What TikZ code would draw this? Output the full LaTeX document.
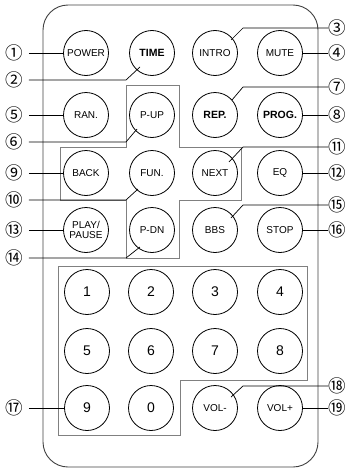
\documentclass[tikz,border=0pt]{standalone}
\usepackage{fontspec}
\setmainfont{Liberation Sans}
\newfontfamily\tagfont{Noto Sans CJK SC}
\usetikzlibrary{calc}
\begin{document}
\begin{tikzpicture}[x=1pt,y=-1pt,
  btn/.style={draw, circle, minimum size=45pt, inner sep=0pt, line width=0.8pt,
    font=\fontsize{10}{10}\selectfont},
  bbtn/.style={btn, font=\fontsize{10.5}{10}\selectfont\bfseries},
  key/.style={btn, font=\fontsize{14}{14}\selectfont},
  tagl/.style={inner sep=0pt, outer sep=6pt, font=\tagfont\fontsize{17.5}{17.5}\selectfont},
  tagr/.style={tagl, outer sep=0pt},
  lead/.style={line width=0.7pt},
  panel/.style={draw=gray, line width=1pt}]
\useasboundingbox (0,0) rectangle (352,471);
% remote body and panels
\draw[draw=black!75, line width=0.9pt, rounded corners=25pt] (43,5) rectangle (318,467);
\draw[panel] (126,85) -- (179,85) -- (179,147) -- (241,147) -- (241,200) -- (179,200)
  -- (179,258) -- (126,258) -- (126,200) -- (60,200) -- (60,147) -- (126,147) -- cycle;
\draw[panel] (58,266) -- (307,266) -- (307,380) -- (180,380) -- (180,435) -- (58,435) -- cycle;
% buttons
\node[btn] (power) at (86,53) {POWER};
\node[bbtn] (time) at (152,53) {TIME};
\node[btn] (intro) at (215,53) {INTRO};
\node[btn] (mute) at (280,53) {MUTE};
\node[btn] (ran) at (86,115) {RAN.};
\node[btn] (pup) at (152,115) {P-UP};
\node[bbtn] (rep) at (215,115) {REP.};
\node[bbtn] (prog) at (280,115) {PROG.};
\node[btn] (back) at (86,173) {BACK};
\node[btn] (fun) at (152,173) {FUN.};
\node[btn] (next) at (215,173) {NEXT};
\node[btn] (eq) at (280,173) {EQ};
\node[btn, align=center] (play) at (86,230) {PLAY/\\PAUSE};
\node[btn] (pdn) at (152,230) {P-DN};
\node[btn] (bbs) at (215,230) {BBS};
\node[btn] (stop) at (280,230) {STOP};
\node[key] (k1) at (87,292) {1};
\node[key] (k2) at (151,292) {2};
\node[key] (k3) at (215,292) {3};
\node[key] (k4) at (280,292) {4};
\node[key] (k5) at (87,351) {5};
\node[key] (k6) at (151,351) {6};
\node[key] (k7) at (215,351) {7};
\node[key] (k8) at (280,351) {8};
\node[key] (k9) at (87,408) {9};
\node[key] (k0) at (151,408) {0};
\node[btn] (voldn) at (215,408) {VOL-};
\node[btn] (volup) at (280,408) {VOL+};
% callouts
\coordinate (kl) at (126,0);
\coordinate (kr) at (243,0);
\node[tagl] (l1) at (14,53) {①};
\node[tagl] (l2) at (14,80) {②};
\node[tagr] (l3) at (337,28) {③};
\node[tagr] (l4) at (337,53) {④};
\node[tagl] (l5) at (14,115) {⑤};
\node[tagl] (l6) at (14,142) {⑥};
\node[tagr] (l7) at (337,87) {⑦};
\node[tagr] (l8) at (337,115) {⑧};
\node[tagl] (l9) at (14,173) {⑨};
\node[tagl] (l10) at (14,200) {⑩};
\node[tagr] (l11) at (337,147) {⑪};
\node[tagr] (l12) at (337,173) {⑫};
\node[tagl] (l13) at (14,230) {⑬};
\node[tagl] (l14) at (14,258) {⑭};
\node[tagr] (l15) at (337,205) {⑮};
\node[tagr] (l16) at (337,230) {⑯};
\node[tagl] (l17) at (14,408) {⑰};
\node[tagr] (l18) at (337,386) {⑱};
\node[tagr] (l19) at (337,408) {⑲};
\draw[lead] (l1) -- (power);
\draw[lead] (l2) -- (l2 -| kl) -- ($(time)+(-12,14)$);
\draw[lead] (l3) -- (l3 -| kr) -- ($(intro)+(16,-13)$);
\draw[lead] (l4) -- (mute);
\draw[lead] (l5) -- (ran);
\draw[lead] (l6) -- (l6 -| kl) -- ($(pup)+(-15,14)$);
\draw[lead] (l7) -- (l7 -| kr) -- ($(rep)+(17,-15)$);
\draw[lead] (l8) -- (prog);
\draw[lead] (l9) -- (back);
\draw[lead] (l10) -- (l10 -| kl) -- ($(fun)+(-14,16)$);
\draw[lead] (l11) -- (l11 -| kr) -- ($(next)+(14,-11)$);
\draw[lead] (l12) -- (eq);
\draw[lead] (l13) -- (play);
\draw[lead] (l14) -- (l14 -| kl) -- ($(pdn)+(-12,17)$);
\draw[lead] (l15) -- (l15 -| kr) -- ($(bbs)+(16,-12)$);
\draw[lead] (l16) -- (stop);
\draw[lead] (l17) -- (k9);
\draw[lead] (l18) -- (l18 -| kr) -- ($(voldn)+(16,-11)$);
\draw[lead] (l19) -- (volup);
\end{tikzpicture}
\end{document}
